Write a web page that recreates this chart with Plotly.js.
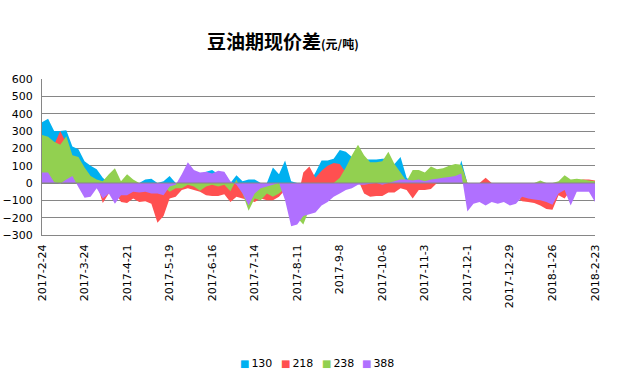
<!DOCTYPE html>
<html>
<head>
<meta charset="utf-8">
<script src="https://cdn.plot.ly/plotly-3.0.1.min.js"></script>
<style>html,body{margin:0;padding:0;background:#fff;}#chart{width:619px;height:378px;}</style>
</head>
<body>
<div id="chart"></div>
<script>
const dates = ['2017-02-24','2017-02-28','2017-03-04','2017-03-08','2017-03-12','2017-03-16','2017-03-20','2017-03-24','2017-03-28','2017-04-01','2017-04-05','2017-04-09','2017-04-13','2017-04-17','2017-04-21','2017-04-25','2017-04-29','2017-05-03','2017-05-07','2017-05-11','2017-05-15','2017-05-19','2017-05-23','2017-05-27','2017-05-31','2017-06-04','2017-06-08','2017-06-12','2017-06-16','2017-06-20','2017-06-24','2017-06-28','2017-07-02','2017-07-06','2017-07-10','2017-07-14','2017-07-18','2017-07-22','2017-07-26','2017-07-30','2017-08-03','2017-08-07','2017-08-11','2017-08-15','2017-08-19','2017-08-23','2017-08-27','2017-08-31','2017-09-04','2017-09-08','2017-09-12','2017-09-16','2017-09-20','2017-09-24','2017-09-28','2017-10-02','2017-10-06','2017-10-10','2017-10-14','2017-10-18','2017-10-22','2017-10-26','2017-10-30','2017-11-03','2017-11-07','2017-11-11','2017-11-15','2017-11-19','2017-11-23','2017-11-27','2017-12-01','2017-12-05','2017-12-09','2017-12-13','2017-12-17','2017-12-21','2017-12-25','2017-12-29','2018-01-02','2018-01-06','2018-01-10','2018-01-14','2018-01-18','2018-01-22','2018-01-26','2018-01-30','2018-02-03','2018-02-07','2018-02-11','2018-02-15','2018-02-19','2018-02-23'];

const s130 = [350,370,300,300,305,210,195,125,100,80,30,0,0,0,0,0,
  0,20,25,0,10,40,0,0,0,20,40,65,75,50,60,
  0,45,10,20,20,0,0,90,50,130,10,0,0,0,60,
  130,130,140,190,180,150,180,135,135,135,140,140,110,150,30,
  0,0,0,0,0,0,0,0,130,0,0,0,0,0,0,
  0,0,0,0,0,0,0,0,0,0,0,0,0,0,0,0];

const s218 = [180,200,220,300,230,120,100,60,20,0,-115,-60,-50,-110,-115,-90,
  -110,-105,-120,-230,-190,-90,-80,-40,-30,-40,-50,-70,-75,-75,-65,
  -110,-80,-90,-100,-110,-90,-100,-100,-80,-40,-80,-100,60,95,30,
  70,100,115,110,60,40,20,-60,-80,-75,-75,-55,-55,-30,-40,
  -90,-40,-40,-35,0,0,0,0,100,0,0,0,30,0,0,
  -50,-60,-80,-105,-110,-115,-130,-150,-155,-70,-90,-40,10,20,20,15];

const s238 = [277,267,238,220,270,160,150,90,40,20,10,50,85,10,50,20,
  0,0,0,0,-20,-50,-30,-30,-10,-20,-45,-20,-10,-20,-10,
  -48,20,-60,-160,-90,-100,-60,-80,-60,-30,-120,-200,-240,-150,-80,
  -50,-30,0,30,90,160,220,160,120,120,125,180,110,60,10,
  75,75,60,95,80,85,100,110,105,0,0,0,0,0,0,
  0,0,0,0,0,0,15,0,0,10,45,20,25,20,15,10];

const s388 = [60,60,5,-5,20,40,-25,-85,-80,-30,-90,-60,-120,-70,-70,-50,
  -55,-50,-60,-60,-70,-20,-10,50,120,75,60,65,55,70,65,
  10,-10,-60,-130,-60,-30,-20,-10,0,-100,-250,-240,-190,-180,-170,
  -130,-110,-80,-60,-40,-30,-10,-10,-5,0,-10,0,10,20,20,
  15,20,10,20,25,30,35,40,55,-165,-120,-110,-130,-110,-120,
  -110,-130,-120,-80,-90,-95,-100,-110,-125,-60,-40,-130,-50,-50,-50,-110];

const seriesNames = ['130','218','238','388'];
const seriesColors = ['#00B0F0','#FF5050','#92D050','#B070FF'];
const tickVals = ['2017-02-24','2017-03-24','2017-04-21','2017-05-19','2017-06-16','2017-07-14','2017-08-11','2017-09-08','2017-10-06','2017-11-03','2017-12-01','2017-12-29','2018-01-26','2018-02-23'];
const tickLabels = ['2017-2-24','2017-3-24','2017-4-21','2017-5-19','2017-6-16','2017-7-14','2017-8-11','2017-9-8','2017-10-6','2017-11-3','2017-12-1','2017-12-29','2018-1-26','2018-2-23'];

const allSeries = [s130, s218, s238, s388];
const traces = allSeries.map((ys, k) => ({
  x: dates, y: ys, name: seriesNames[k], type: 'scatter', mode: 'none',
  fill: 'tozeroy', fillcolor: seriesColors[k], hoverinfo: 'skip', showlegend: false
}));

// legend drawn as text entries (coloured square + series name)
const W = 619, H = 378, ML = 42, MR = 24, MT = 79, MB = 143;
const plotW = W - ML - MR, plotH = H - MT - MB;
const legendLeftPx = [238, 279, 320, 360];
const legendYPx = 363;
const legendAnn = seriesNames.map((nm, k) => ({
  xref: 'paper', yref: 'paper',
  x: (legendLeftPx[k] - ML) / plotW, y: (H - MB - legendYPx) / plotH,
  xanchor: 'left', yanchor: 'middle', showarrow: false,
  text: '<span style="color:' + seriesColors[k] + ';font-size:10px">■</span><span style="font-size:6px"> </span>' + nm,
  font: {family: 'DejaVu Sans, Verdana, sans-serif', size: 11, color: '#000'}
}));

const gridCol = '#868686';
const layout = {
  width: W, height: H,
  margin: {l: ML, r: MR, t: MT, b: MB},
  paper_bgcolor: '#fff', plot_bgcolor: '#fff',
  font: {family: 'DejaVu Sans, Verdana, sans-serif', size: 11, color: '#000'},
  title: {
    text: '<b>豆油期现价差</b><b><span style="font-size:12px">(元/吨)</span></b>',
    font: {family: 'Noto Sans CJK SC, sans-serif', size: 19, color: '#000'},
    x: 0.457, xref: 'container', xanchor: 'center',
    y: 0.889, yref: 'container', yanchor: 'middle'
  },
  xaxis: {
    type: 'date', range: ['2017-02-24', '2018-02-23'],
    tickmode: 'array', tickvals: tickVals, ticktext: tickLabels,
    tickangle: -90, tickfont: {size: 11, color: '#000'},
    showgrid: false, zeroline: false, showline: true, linecolor: gridCol, linewidth: 1,
    ticks: '', ticklabelstandoff: 4
  },
  yaxis: {
    range: [-300, 600], tickmode: 'linear', tick0: -300, dtick: 100,
    showgrid: true, gridcolor: gridCol, gridwidth: 1,
    zeroline: false, showline: true, linecolor: gridCol, linewidth: 1,
    ticks: '', ticklabelstandoff: 6, tickfont: {size: 11, color: '#000'}
  },
  shapes: [{type: 'line', xref: 'paper', x0: 0, x1: 1, yref: 'y', y0: 0, y1: 0,
            line: {color: gridCol, width: 1}, layer: 'above'}],
  annotations: legendAnn,
  showlegend: false
};

Plotly.newPlot('chart', traces, layout, {displayModeBar: false, staticPlot: true});
</script>
</body>
</html>
